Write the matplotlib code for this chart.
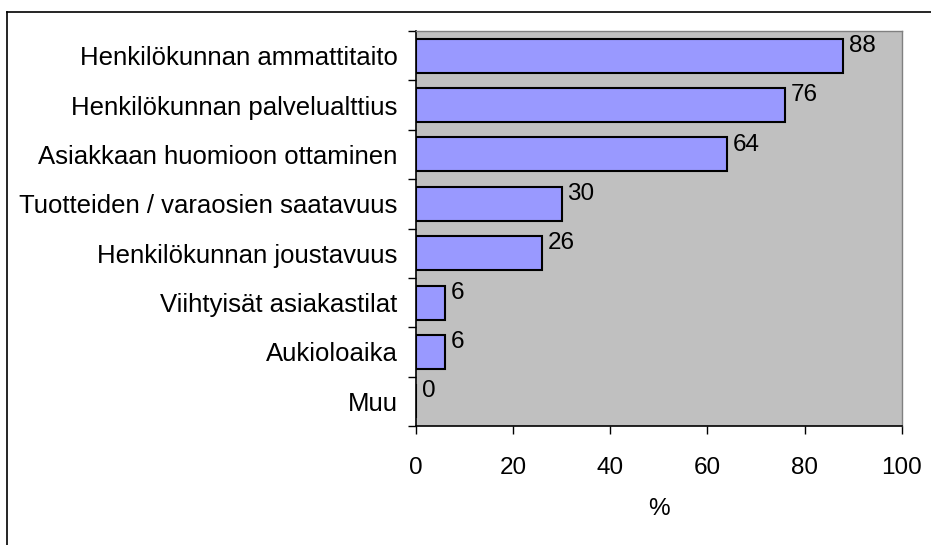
import matplotlib.pyplot as plt
from matplotlib.lines import Line2D
import numpy as np

plt.rcParams['font.family'] = ['Liberation Sans', 'DejaVu Sans']

# Data (top to bottom)
categories = [
    'Henkilökunnan ammattitaito',
    'Henkilökunnan palvelualttius',
    'Asiakkaan huomioon ottaminen',
    'Tuotteiden / varaosien saatavuus',
    'Henkilökunnan joustavuus',
    'Viihtyisät asiakastilat',
    'Aukioloaika',
    'Muu',
]
values = [88, 76, 64, 30, 26, 6, 6, 0]
x_ticks = [0, 20, 40, 60, 80, 100]

FS = 17.5
W, H = 931, 545

fig = plt.figure(figsize=(W / 100, H / 100), dpi=100)
ax = fig.add_axes([415.7 / W, 1 - 426 / H, (901.7 - 415.7) / W, (426 - 31) / H])

# outer frame: only top and left edges visible (chart is cropped)
fig.lines.append(Line2D([7 / W, 1], [1 - 12 / H, 1 - 12 / H], transform=fig.transFigure,
                        color='black', linewidth=1.2))
fig.lines.append(Line2D([7 / W, 7 / W], [0, 1 - 12 / H], transform=fig.transFigure,
                        color='black', linewidth=1.2))

y = np.arange(len(categories))
ax.barh(y, values, height=0.69, color='#9999FF', edgecolor='black', linewidth=1.5)

for yi, v in zip(y, values):
    ax.text(v + 1.2, yi - 0.2, f'{v}', ha='left', va='center', fontsize=FS)

ax.set_facecolor('#C0C0C0')
ax.set_xlim(0, 100)
ax.set_ylim(len(categories) - 0.5, -0.5)
ax.set_xticks(x_ticks)
ax.set_xticklabels([str(t) for t in x_ticks], fontsize=FS)
ax.tick_params(axis='x', length=6, width=1, pad=16, direction='out')

# category labels without ticks, ticks at the boundaries
ax.set_yticks(y)
ax.set_yticklabels(categories, fontsize=18.5)
ax.tick_params(axis='y', which='major', length=0, pad=13)
ax.set_yticks(np.arange(-0.5, len(categories)), minor=True)
ax.tick_params(axis='y', which='minor', length=6, width=1, direction='out')

ax.set_xlabel('%', fontsize=FS, labelpad=14)

for s in ['left', 'bottom']:
    ax.spines[s].set_color('black')
    ax.spines[s].set_linewidth(1.2)
for s in ['top', 'right']:
    ax.spines[s].set_color('#808080')
    ax.spines[s].set_linewidth(1.0)

fig.savefig('out.png', dpi=100)
